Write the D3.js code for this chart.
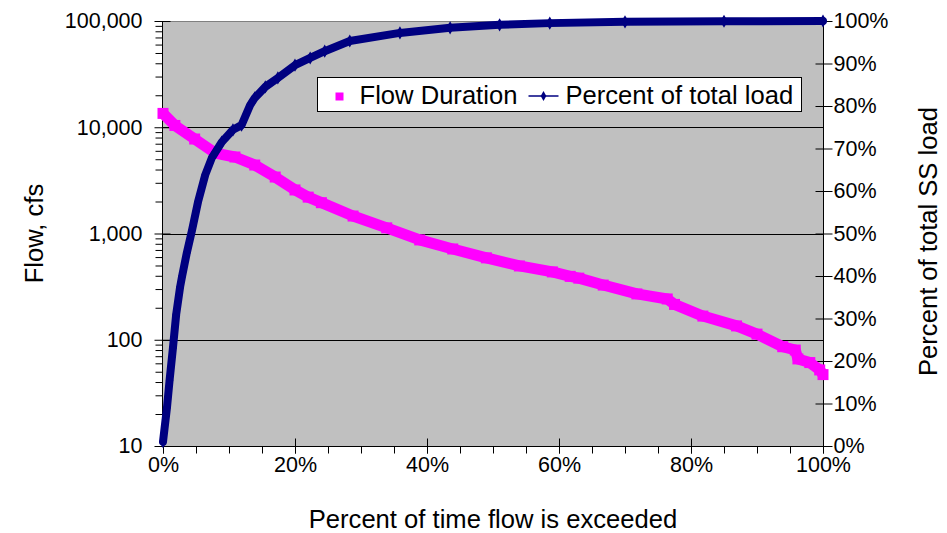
<!DOCTYPE html>
<html>
<head>
<meta charset="utf-8">
<script src="https://cdn.jsdelivr.net/npm/d3@7"></script>
<style>
  body { margin: 0; background: #fff; }
  svg { display: block; font-family: "Liberation Sans", Arial, sans-serif; }
  .axis path, .axis line { stroke: #000; }
  .axis text { font-size: 21.5px; fill: #000; }
  .title { font-size: 25.6px; fill: #000; }
</style>
</head>
<body>
<div id="chart"></div>
<script>
// flow duration curve (percent of time exceeded, cfs)
const flowPct = [0, 1.8, 4.8, 7.9, 10.9, 13.9, 17.0, 20.0, 22.0, 24.0, 28.8, 33.9, 38.9, 43.9,
  49.0, 54.0, 59.0, 61.7, 63.0, 66.7, 71.8, 76.4, 77.5, 81.8, 86.9, 90.0, 93.9, 95.8, 96.2,
  98.0, 99.5, 100];
const flowCfs = [13500, 10400, 7750, 5720, 5250, 4410, 3400, 2570, 2200, 1950, 1460, 1130, 870, 715,
  590, 495, 435, 395, 380, 327, 270, 242, 215, 167, 135, 113, 86, 80, 66,
  61, 52, 47];

// cumulative percent of total SS load
const loadX = [0, 0.6, 1.0, 1.5, 2.0, 2.6, 2.9, 3.6, 4.4, 5.3, 6.4, 7.4, 8.9, 10.6, 11.9,
  13.2, 13.9, 15.5, 17.4, 20.0, 22.3, 24.5, 28.3, 35.9, 43.5, 51.0, 58.6, 70.0, 85.0, 100];
const loadPct = [1, 9, 15.5, 23, 31, 37.5, 40, 45.4, 50.8, 57.4, 63.8, 67.8, 71.5, 74.4, 75.5,
  80.2, 81.9, 84.5, 86.6, 89.6, 91.3, 92.9, 95.3, 97.2, 98.4, 99.1, 99.5, 99.8, 99.95, 100];

const flowTicks = [10, 100, 1000, 10000, 100000];
const pctTicksRight = d3.range(0, 101, 10);
const pctTicksBottom = [0, 20, 40, 60, 80, 100];

const seriesNames = ['Flow Duration', 'Percent of total load'];
const flowColor = '#FF00FF';
const loadColor = '#000080';

const width = 947;
const height = 533;
const marginTop = 21;
const marginBottom = 87;
const marginLeft = 163;
const marginRight = 124;

const x = d3.scaleLinear().domain([0, 100]).range([marginLeft, width - marginRight]);
const yFlow = d3.scaleLog().domain([10, 100000]).range([height - marginBottom, marginTop]);
const yLoad = d3.scaleLinear().domain([0, 100]).range([height - marginBottom, marginTop]);

const svg = d3.select('#chart').append('svg')
  .attr('width', width)
  .attr('height', height);

// plot area
svg.append('rect')
  .attr('x', x(0))
  .attr('y', marginTop)
  .attr('width', x(100) - x(0))
  .attr('height', yFlow(10) - yFlow(100000))
  .attr('fill', '#C0C0C0');

// gridlines
svg.append('g')
  .selectAll('line')
  .data(flowTicks.slice(1, -1))
  .enter()
  .append('line')
  .attr('x1', x(0))
  .attr('x2', x(100))
  .attr('y1', d => Math.round(yFlow(d)) + 0.5)
  .attr('y2', d => Math.round(yFlow(d)) + 0.5)
  .attr('stroke', '#000')
  .attr('stroke-width', 1);

// top border
svg.append('line')
  .attr('x1', x(0)).attr('x2', x(100))
  .attr('y1', marginTop + 0.5).attr('y2', marginTop + 0.5)
  .attr('stroke', '#808080');

// minor log ticks
const minorTicks = [];
flowTicks.slice(0, -1).forEach(t => {
  for (let k = 2; k < 10; k++) minorTicks.push(t * k);
});

svg.append('g')
  .attr('class', 'axis')
  .attr('transform', `translate(${x(0) - 0.5},0)`)
  .call(d3.axisLeft(yFlow).tickValues(minorTicks).tickSize(7).tickFormat(''))
  .call(g => g.select('.domain').remove());

// left axis
svg.append('g')
  .attr('class', 'axis')
  .attr('transform', `translate(${x(0) - 0.5},0)`)
  .call(d3.axisLeft(yFlow).tickValues(flowTicks).tickSize(8).tickPadding(12)
    .tickFormat(d3.format(',')))
  .call(g => g.selectAll('.tick line').attr('x1', 8))
  .call(g => g.select('.domain').attr('d', `M0,${marginTop}V${height - marginBottom}`));

// right axis
svg.append('g')
  .attr('class', 'axis')
  .attr('transform', `translate(${x(100) + 0.5},0)`)
  .call(d3.axisRight(yLoad).tickValues(pctTicksRight).tickSize(9).tickPadding(1)
    .tickFormat(d => d + '%'))
  .call(g => g.selectAll('.tick line').attr('x1', -8))
  .call(g => g.select('.domain').attr('d', `M0,${marginTop}V${height - marginBottom}`));

// bottom minor ticks (every 5%)
svg.append('g')
  .attr('class', 'axis')
  .attr('transform', `translate(0,${yFlow(10) + 0.5})`)
  .call(d3.axisBottom(x).tickValues(d3.range(0, 101, 5)).tickSize(7).tickFormat(''))
  .call(g => g.select('.domain').remove());

// bottom axis
svg.append('g')
  .attr('class', 'axis')
  .attr('transform', `translate(0,${yFlow(10) + 0.5})`)
  .call(d3.axisBottom(x).tickValues(pctTicksBottom).tickSize(7).tickPadding(3)
    .tickFormat(d => d + '%'))
  .call(g => g.selectAll('.tick line').attr('y1', -8))
  .call(g => g.select('.domain').attr('d', `M${x(0)},0H${x(100)}`));

// flow duration series
const flowData = flowPct.map((p, i) => ({ p, v: flowCfs[i] }));
const flowLine = d3.line().x(d => x(d.p)).y(d => yFlow(d.v));

svg.append('path')
  .datum(flowData)
  .attr('d', flowLine)
  .attr('fill', 'none')
  .attr('stroke', flowColor)
  .attr('stroke-width', 11)
  .attr('stroke-linejoin', 'round');

svg.append('g')
  .selectAll('rect')
  .data(flowData)
  .enter()
  .append('rect')
  .attr('x', d => x(d.p) - 5.5)
  .attr('y', d => yFlow(d.v) - 5.5)
  .attr('width', 11)
  .attr('height', 11)
  .attr('fill', flowColor);

// percent of load series
const loadData = loadX.map((p, i) => ({ p, v: loadPct[i] }));
const loadLine = d3.line().x(d => x(d.p)).y(d => yLoad(d.v));

svg.append('path')
  .datum(loadData)
  .attr('d', loadLine)
  .attr('fill', 'none')
  .attr('stroke', loadColor)
  .attr('stroke-width', 8)
  .attr('stroke-linejoin', 'round')
  .attr('stroke-linecap', 'round');

svg.append('g')
  .selectAll('path')
  .data(loadData)
  .enter()
  .append('path')
  .attr('d', d3.symbol().type(d3.symbolDiamond).size(50))
  .attr('transform', d => `translate(${x(d.p)},${yLoad(d.v)})`)
  .attr('fill', loadColor);

// legend
const legend = svg.append('g').attr('transform', 'translate(317.5,77.5)');
legend.append('rect')
  .attr('width', 484)
  .attr('height', 34)
  .attr('fill', '#fff')
  .attr('stroke', '#000');
legend.append('rect')
  .attr('x', 18).attr('y', 15).attr('width', 8).attr('height', 8)
  .attr('fill', flowColor);
legend.append('text')
  .attr('class', 'title')
  .attr('x', 42).attr('y', 26)
  .text(seriesNames[0]);
legend.append('line')
  .attr('x1', 211).attr('x2', 241).attr('y1', 18.5).attr('y2', 18.5)
  .attr('stroke', loadColor).attr('stroke-width', 1.5);
legend.append('path')
  .attr('d', d3.symbol().type(d3.symbolDiamond).size(28))
  .attr('transform', 'translate(226,18.5)')
  .attr('fill', loadColor);
legend.append('text')
  .attr('class', 'title')
  .attr('x', 248).attr('y', 26)
  .text(seriesNames[1]);

// axis titles
const plotMidY = (marginTop + height - marginBottom) / 2;
svg.append('text')
  .attr('class', 'title')
  .attr('text-anchor', 'middle')
  .attr('transform', `translate(43,${plotMidY}) rotate(-90)`)
  .text('Flow, cfs');

svg.append('text')
  .attr('class', 'title')
  .attr('text-anchor', 'middle')
  .attr('transform', `translate(937,${plotMidY + 8}) rotate(-90)`)
  .text('Percent of total SS load');

svg.append('text')
  .attr('class', 'title')
  .attr('text-anchor', 'middle')
  .attr('x', (x(0) + x(100)) / 2)
  .attr('y', 528)
  .text('Percent of time flow is exceeded');
</script>
</body>
</html>
